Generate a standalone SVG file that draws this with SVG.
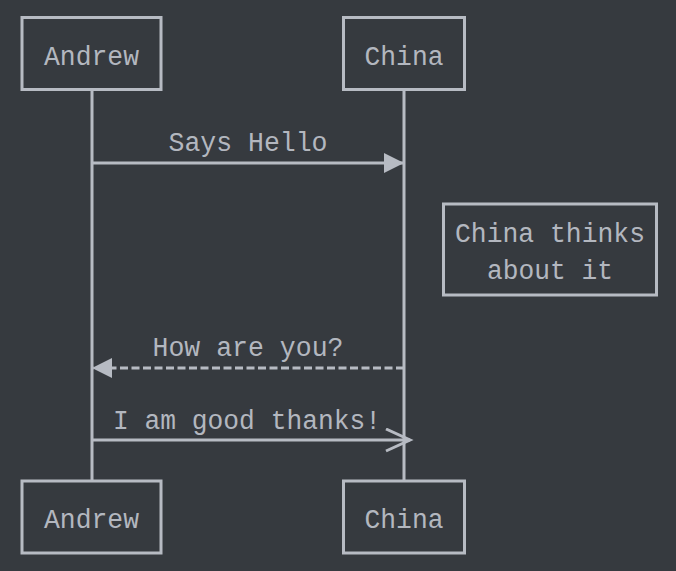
<svg xmlns="http://www.w3.org/2000/svg" width="676" height="571" viewBox="0 0 676 571">
<style>
.box{fill:#363a3f;stroke:#b7bbc3;stroke-width:3}
.life{stroke:#b7bbc3;stroke-width:3}
.msg{stroke:#b7bbc3;stroke-width:3;fill:none}
.t{font-family:"Liberation Mono","DejaVu Sans Mono",monospace;font-size:27px;fill:#b3b7bf;text-anchor:middle}
</style>
<defs>
<marker id="filled" markerUnits="userSpaceOnUse" markerWidth="22" markerHeight="22" refX="20" refY="10" orient="auto">
<path d="M0,0 L20,10 L0,20 Z" fill="#b7bbc3"/>
</marker>
<marker id="open" markerUnits="userSpaceOnUse" markerWidth="30" markerHeight="30" refX="25" refY="12" orient="auto">
<path d="M1,1 L25,12 L1,23" fill="none" stroke="#b7bbc3" stroke-width="3"/>
</marker>
</defs>
<rect width="676" height="571" fill="#363a3f"/>
<g id="lifelines">
<line class="life" x1="92" y1="90" x2="92" y2="481"/>
<line class="life" x1="404" y1="90" x2="404" y2="481"/>
</g>
<g id="andrew-top"><rect class="box" x="22" y="17.5" width="139" height="72"/><text class="t" x="91.5" y="65" textLength="95" lengthAdjust="spacingAndGlyphs">Andrew</text></g>
<g id="china-top"><rect class="box" x="343.5" y="17.5" width="121" height="72"/><text class="t" x="404" y="65" textLength="79" lengthAdjust="spacingAndGlyphs">China</text></g>
<g id="andrew-bottom"><rect class="box" x="22" y="481" width="139" height="72"/><text class="t" x="91.5" y="528" textLength="95" lengthAdjust="spacingAndGlyphs">Andrew</text></g>
<g id="china-bottom"><rect class="box" x="343.5" y="481" width="121" height="72"/><text class="t" x="404" y="528" textLength="79" lengthAdjust="spacingAndGlyphs">China</text></g>
<g id="note"><rect class="box" x="443.5" y="204" width="213" height="91"/><text class="t" x="550" y="242" textLength="190" lengthAdjust="spacingAndGlyphs">China thinks</text><text class="t" x="550" y="279" textLength="126" lengthAdjust="spacingAndGlyphs">about it</text></g>
<g id="connectors">
<line class="msg" x1="92" y1="163" x2="404" y2="163" marker-end="url(#filled)"/>
<text class="t" x="248" y="151" textLength="159" lengthAdjust="spacingAndGlyphs">Says Hello</text>
<line class="msg" x1="404" y1="368" x2="92" y2="368" stroke-dasharray="8 3.5" marker-end="url(#filled)"/>
<text class="t" x="248" y="356" textLength="191" lengthAdjust="spacingAndGlyphs">How are you?</text>
<line class="msg" x1="92" y1="440" x2="410" y2="440" marker-end="url(#open)"/>
<text class="t" x="247" y="429" textLength="268" lengthAdjust="spacingAndGlyphs">I am good thanks!</text>
</g>
</svg>
